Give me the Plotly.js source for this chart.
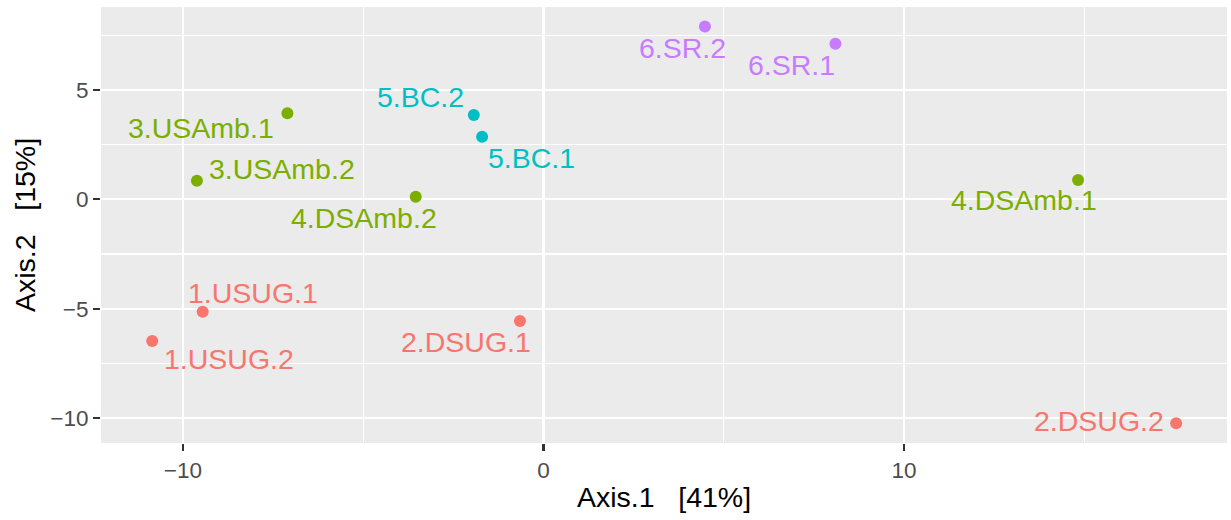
<!DOCTYPE html>
<html>
<head>
<meta charset="utf-8">
<script src="https://cdn.plot.ly/plotly-3.0.1.min.js"></script>
<style>html,body{margin:0;padding:0;background:#fff;}#chart{width:1231px;height:520px;}</style>
</head>
<body>
<div id="chart"></div>
<script>
// ---- data ----
const samples = ["1.USUG.1","1.USUG.2","2.DSUG.1","2.DSUG.2","3.USAmb.1","3.USAmb.2","4.DSAmb.1","4.DSAmb.2","5.BC.1","5.BC.2","6.SR.1","6.SR.2"];
const axis1 = [-9.45,-10.85,-0.65,17.55,-7.10,-9.61,14.83,-3.54,-1.70,-1.93,8.10,4.48];
const axis2 = [-5.14,-6.48,-5.56,-10.24,3.93,0.85,0.88,0.12,2.86,3.85,7.11,7.90];
const treatment = ["UG","UG","UG","UG","Amb","Amb","Amb","Amb","BC","BC","SR","SR"];
const xTicks = [-10,0,10];
const yTicks = [-10,-5,0,5];
const xTitle = "Axis.1\u00a0\u00a0\u00a0[41%]";
const yTitle = "Axis.2\u00a0\u00a0\u00a0[15%]";

// ---- styling ----
const palette = {UG:"#F8766D", Amb:"#7CAE00", BC:"#00BFC4", SR:"#C77CFF"};
// label placement (pixel offsets from each point, like ggrepel)
const labelDx = [50,77,-54,-77,-86,85,-54,-52,49,-53,-44,-22];
const labelDy = [19,-18,-21,2,-15,12,-20,-21,-21,18,-21,-22];

const colors = treatment.map(t => palette[t]);
const FONT = "Liberation Sans, Arial, Helvetica, sans-serif";
const LBL = 28.5;

const trace = {
  type: "scatter", mode: "markers",
  x: axis1, y: axis2, text: samples,
  marker: {color: colors, size: 12, line: {width: 0}},
  hoverinfo: "text", showlegend: false
};

const annotations = samples.map((s, i) => ({
  x: axis1[i], y: axis2[i], xref: "x", yref: "y",
  text: s, showarrow: false,
  xanchor: "center", yanchor: "middle",
  xshift: labelDx[i], yshift: labelDy[i],
  font: {family: FONT, size: LBL, color: colors[i]}
}));

const axisCommon = {
  showline: false, zeroline: false,
  gridcolor: "#FFFFFF", gridwidth: 2.2,
  ticks: "outside", ticklen: 7, tickwidth: 2.2, tickcolor: "#333333",
  tickfont: {family: FONT, size: 22.5, color: "#4D4D4D"},
  tickmode: "array",
};

const layout = {
  width: 1231, height: 520,
  margin: {l: 101, r: 4, t: 7, b: 77},
  paper_bgcolor: "#FFFFFF", plot_bgcolor: "#EBEBEB",
  font: {family: FONT},
  xaxis: Object.assign({}, axisCommon, {
    range: [-12.27, 18.96], tickvals: xTicks, ticktext: xTicks.map(v => v < 0 ? "\u2212" + Math.abs(v) : String(v)),
    minor: {tickmode: "array", tickvals: [-15,-5,5,15], showgrid: true, gridcolor: "#FFFFFF", gridwidth: 1.1, ticks: ""},
    title: {text: xTitle, font: {family: FONT, size: LBL, color: "#000000"}, standoff: 5}
  }),
  yaxis: Object.assign({}, axisCommon, {
    range: [-11.14, 8.79], tickvals: yTicks, ticktext: yTicks.map(v => v < 0 ? "\u2212" + Math.abs(v) : String(v)),
    minor: {tickmode: "array", tickvals: [-7.5,-2.5,2.5,7.5], showgrid: true, gridcolor: "#FFFFFF", gridwidth: 1.1, ticks: ""},
    title: {text: yTitle, font: {family: FONT, size: LBL, color: "#000000"}, standoff: 6}
  }),
  annotations: annotations
};

Plotly.newPlot("chart", [trace], layout, {displayModeBar: false, staticPlot: true});
</script>
</body>
</html>
